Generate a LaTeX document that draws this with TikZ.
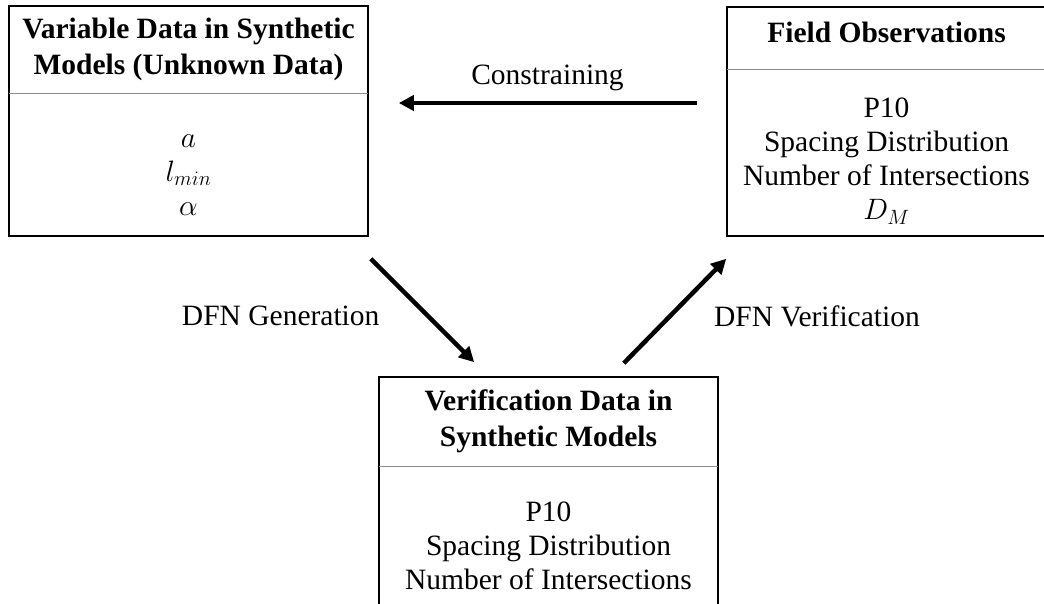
\RequirePackage{fix-cm}
\documentclass[tikz,border=0pt]{standalone}
\usepackage{fontspec}
\setmainfont{Liberation Serif}
\usetikzlibrary{arrows.meta,positioning}

\tikzset{
  boxframe/.style={rectangle, draw, line width=1.6pt, inner sep=0pt},
  headbox/.style={rectangle, inner sep=0pt, align=center,
                  font=\fontsize{29.5}{36}\selectfont\bfseries},
  bodytext/.style={rectangle, inner sep=0pt, align=center,
                   font=\fontsize{29.5}{34}\selectfont},
  divider/.style={draw=black!45, line width=1.3pt},
  flow/.style={-{Triangle[length=15pt,width=15pt]}, line width=4.5pt},
  flowlabel/.style={inner sep=0pt, font=\fontsize{29.5}{34}\selectfont},
}

\begin{document}
\begin{tikzpicture}[x=1pt, y=1pt]
  \useasboundingbox (0,0) rectangle (1044,603);

  % unknown data
  \node[boxframe, minimum width=359pt, minimum height=230pt] (var) at (188.5,482) {};
  \node[headbox, minimum width=359pt, minimum height=88pt, below=0pt of var.north] (varhead)
    {Variable Data in Synthetic\\Models (Unknown Data)};
  \draw[divider] (varhead.south west) -- (varhead.south east);
  \node[bodytext, below=41pt of varhead] (varbody) {$a$\\$l_{min}$\\$\alpha$};

  % field data
  \node[boxframe, minimum width=319pt, minimum height=229pt] (obs) at (886.5,481.5) {};
  \node[headbox, minimum width=319pt, minimum height=63pt, text depth=11pt,
        below=0pt of obs.north] (obshead)
    {Field Observations};
  \draw[divider] (obshead.south west) -- (obshead.south east);
  \node[bodytext, below=28.4pt of obshead] (obsbody)
    {P10\\Spacing Distribution\\Number of Intersections\\$D_M$};

  % synthetic check
  \node[boxframe, minimum width=339pt, minimum height=260pt] (ver) at (548.5,96) {};
  \node[headbox, minimum width=339pt, minimum height=90pt, below=0pt of ver.north] (verhead)
    {Verification Data in\\Synthetic Models};
  \draw[divider] (verhead.south west) -- (verhead.south east);
  \node[bodytext, below=35pt of verhead] (verbody)
    {P10\\Spacing Distribution\\Number of Intersections};

  \draw[flow, shorten <=29pt, shorten >=30pt] ([yshift=18.5pt]obs.west)
    -- node[flowlabel, above=10pt] {Constraining} ([yshift=18pt]var.east);
  \draw[flow] ([shift={(2,-22)}]var.south east)
    -- node[flowlabel, pos=0.55, left=46pt] {DFN Generation} ([shift={(96,14)}]ver.north west);
  \draw[flow] ([shift={(-95,13)}]ver.north east)
    -- node[flowlabel, pos=0.45, right=42pt] {DFN Verification} ([shift={(0,-22)}]obs.south west);
\end{tikzpicture}
\end{document}
